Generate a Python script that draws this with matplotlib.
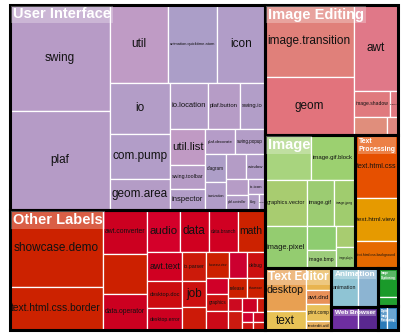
import matplotlib
matplotlib.use('Agg')
import matplotlib.pyplot as plt
from matplotlib.patches import Rectangle

plt.rcParams['font.family'] = ['Liberation Sans', 'DejaVu Sans']

# ---- data (leaf values ~ area), rows = how many leaves go in each strip ----
group_names = ['User Interface', 'Other Labels', 'Image Editing', 'Image', 'Text\nProcessing',
               'Text Editor', 'Animation', 'Web Browser', 'Image\nCaptioning', 'Digital\nImage\nProcessing']
top_rows = [2, 1, 2, 1, 2, 1, 1]

ui_labels = ['swing', 'plaf', 'util', 'animation.quicktime.atom', 'icon', 'io', 'com.pump', 'geom.area',
             'io.location', 'plaf.button', 'swing.io', 'util.list', 'swing.toolbar', 'inspector',
             'plaf.decorate', 'swing.popup', 'diagram', 'iconization', '', 'window', '', 'plaf.controller',
             'io.icon', 'blog', 'reflection']
ui_values = [10500, 9800, 4466, 3773, 3696, 3060, 2640, 1860, 1748, 1472, 1150, 1225, 840, 735,
             720, 720, 588, 567, 500, 475, 330, 330, 240, 160, 96]
ui_rows = [2, 3, 3, 3, 3, 2, 2, 2, 2, 1, 1, 1]

other_labels = ['showcase.demo', 'text.html.css.border', 'awt.converter', '', 'data.operator',
                'audio', 'data', 'data.branch', 'math', 'awt.text', 'desktop.doc', 'desktop.error',
                'io.parser', 'job', '', 'showcase.view', '', 'debug', '', 'graphics', '',
                'release', 'showcase', '', '', '', '', '', '', '', '']
other_values = [7068, 4000, 1936, 1760, 1584, 1344, 1218, 1218, 1134, 986, 918, 748,
                696, 624, 552, 575, 475, 450, 340, 360, 400, 360, 342,
                182, 252, 221, 104, 108, 96, 108, 96]
other_rows = [2, 3, 4, 3, 3, 3, 3, 2, 2, 2, 2, 1, 1]

edit_labels = ['image.transition', 'geom', 'awt', 'image.shadow', 'diagram.plot', '', '']
edit_values = [6370, 5096, 3772, 945, 207, 595, 198]
edit_rows = [2, 1, 2, 1, 1]

image_labels = ['', 'image.gif.block', 'graphics.vector', 'image.pixel', 'image.gif', 'image.jpeg',
                '', 'image.bmp', '', 'image.plugin']
image_values = [2021, 1950, 1932, 1764, 1242, 966, 696, 522, 390, 400]
image_rows = [2, 2, 2, 2, 1, 1]

textproc_labels = ['text.html.css', 'text.html.view', 'text.html.css.background']
textproc_values = [2666, 1806, 1161]
textproc_rows = [1, 1, 1]

texted_labels = ['desktop', 'text', '', 'awt.dnd', 'print.comp', 'textedit.util']
texted_values = [1720, 760, 550, 350, 425, 225]
texted_rows = [2, 1, 1, 1, 1]

anim_labels = ['animation', '']
anim_values = [1026, 760]
anim_rows = [1, 1]

web_labels = ['', '']
web_values = [594, 440]
web_rows = [1, 1]

capt_labels = ['', '']
capt_values = [567, 189]
capt_rows = [1, 1]

dip_labels = ['', '']
dip_values = [210, 270]
dip_rows = [2]

groups = [
    (ui_labels, ui_values, ui_rows),
    (other_labels, other_values, other_rows),
    (edit_labels, edit_values, edit_rows),
    (image_labels, image_values, image_rows),
    (textproc_labels, textproc_values, textproc_rows),
    (texted_labels, texted_values, texted_rows),
    (anim_labels, anim_values, anim_rows),
    (web_labels, web_values, web_rows),
    (capt_labels, capt_values, capt_rows),
    (dip_labels, dip_values, dip_rows),
]

# ---- colours (one per leaf) ----
leaf_colors = [
    ['#b79bc6', '#b59bc6', '#bf9bc5', '#ab9ec8', '#b19dc8', '#b39dc7', '#b29dc8', '#b49cc6',
     '#b49ec8', '#b69cc6', '#b29ec8', '#c09ac4', '#b69cc6', '#b29dc8', '#b59cc8', '#b39dc7',
     '#ad9ec8', '#b19dc8', '#b49cc6', '#b29dc8', '#b69cc6', '#b39dc7', '#b49cc8', '#b29dc8', '#b59cc6'],
    ['#cc2200', '#cc2200', '#cc0020', '#cc2000', '#cc0020', '#d4002a', '#d00020', '#d00022', '#cc2200',
     '#d00022', '#cc0c10', '#cc0020', '#cc1a0a', '#cc1010', '#cc1a08', '#cc2000', '#cc0030', '#cc1010',
     '#d00028', '#cc1010', '#cc0a18', '#cc2000', '#cc2000', '#cc0a20', '#cc1a10', '#cc0024', '#cc1a0a',
     '#d00030', '#cc1410', '#cc0a20', '#cc1a10'],
    ['#e0807a', '#e2737c', '#e07888', '#e07a7e', '#e07880', '#e08e7c', '#e08880'],
    ['#a8d47e', '#9cd070', '#a8cc70', '#94cc70', '#9ccc72', '#a0cc6e', '#8ecc70', '#9ccc7a', '#a8cc70', '#98cc74'],
    ['#e65000', '#e69a00', '#e66a00'],
    ['#e8a052', '#e8c256', '#e8b450', '#e89058', '#e8c05a', '#e8b060'],
    ['#8fc4d4', '#8cb4d2'],
    ['#6e2ea0', '#5a2890'],
    ['#1a9a2a', '#22a030'],
    ['#2a7ab8', '#3284c0'],
]


def strip_layout(values, rows, x0, y0, x1, y1):
    # squarified-style strips: each strip goes along the shorter side of what is left
    rects = []
    total = float(sum(values))
    i = 0
    for c in rows:
        part = values[i:i + c]
        s = float(sum(part))
        dx, dy = x1 - x0, y1 - y0
        if dx < dy:
            h = dy * s / total
            xx = x0
            for v in part:
                w = dx * v / s
                rects.append((xx, y0, w, h))
                xx += w
            y0 += h
        else:
            w = dx * s / total
            yy = y0
            for v in part:
                h = dy * v / s
                rects.append((x0, yy, w, h))
                yy += h
            x0 += w
        total -= s
        i += c
    return rects


W, H = 407, 335
fig = plt.figure(figsize=(W / 100, H / 100), dpi=100)
ax = fig.add_axes([0, 0, 1, 1])
ax.set_xlim(0, W)
ax.set_ylim(H, 0)
ax.axis('off')
renderer = fig.canvas.get_renderer()

group_totals = [sum(g[1]) for g in groups]
group_rects = strip_layout(group_totals, top_rows, 9.5, 4.5, 398, 330)


def fit_text(x, y, s, w, h, cap, margin=3, **kw):
    t = ax.text(x, y, s, fontsize=10, **kw)
    bb = t.get_window_extent(renderer=renderer)
    fs = cap
    if bb.width > 0:
        fs = min(fs, 10 * max(w - margin, 1) / bb.width)
        fs = min(fs, 10 * max(h * 0.85, 1) / bb.height)
    t.set_fontsize(fs)
    return t


for gi, (labels, values, rows) in enumerate(groups):
    gx, gy, gw, gh = group_rects[gi]
    rects = strip_layout(values, rows, gx, gy, gx + gw, gy + gh)
    for li, (rx, ry, rw, rh) in enumerate(rects):
        ax.add_patch(Rectangle((rx, ry), rw, rh, facecolor=leaf_colors[gi][li],
                               edgecolor='white', linewidth=0.9))
        if labels[li]:
            fit_text(rx + rw / 2, ry + rh / 2, labels[li], rw, rh, 8.5, margin=4,
                     ha='center', va='center', color='#111111')

for gi, name in enumerate(group_names):
    gx, gy, gw, gh = group_rects[gi]
    ax.add_patch(Rectangle((gx, gy), gw, gh, facecolor='none', edgecolor='black',
                           linewidth=2.2, zorder=5))
    fit_text(gx + 3.5, gy + 3, name, gw, gh, 10.5, margin=6, ha='left', va='top',
             color='white', fontweight='bold', linespacing=1.15, zorder=6,
             bbox=dict(boxstyle='square,pad=0.12', facecolor='white', alpha=0.28, edgecolor='none'))

fig.savefig('out.png', dpi=100)
